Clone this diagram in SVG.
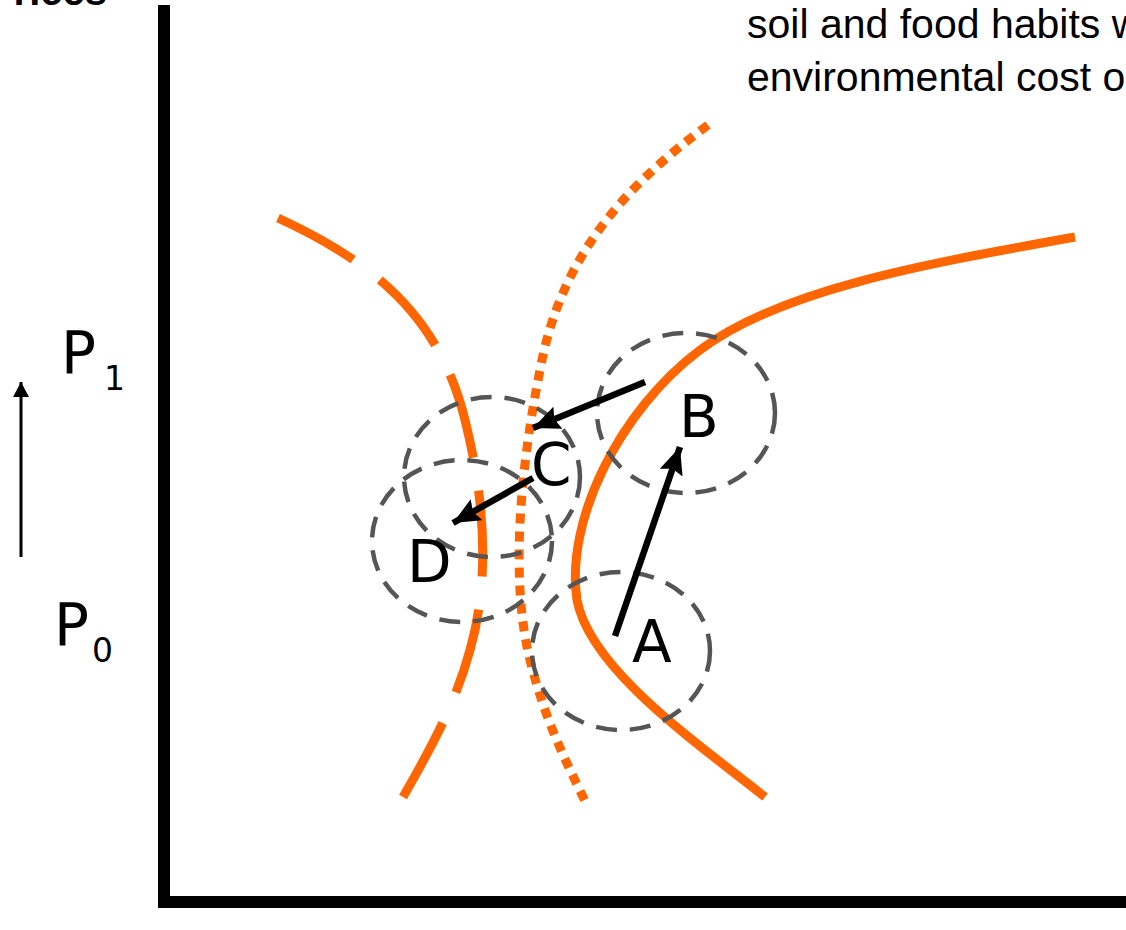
<svg xmlns="http://www.w3.org/2000/svg" width="1126" height="930" viewBox="0 0 1126 930">
<style>
.lbl{font-family:"DejaVu Sans",Verdana,sans-serif;fill:#000}
.big{font-size:58px}
.sub{font-size:33px}
.note{font-family:"Liberation Sans",Arial,sans-serif;font-size:41px;fill:#000}
.ring{fill:none;stroke:#555;stroke-width:4.5;stroke-dasharray:21 13}
.orange{fill:none;stroke:#FF6600;stroke-width:9}
.arr{fill:none;stroke:#000;stroke-width:6.5}
</style>
<defs>
<marker id="ah" markerUnits="userSpaceOnUse" markerWidth="30" markerHeight="26" refX="27" refY="12" orient="auto">
<path d="M0,0 L27,12 L0,24 L4,12 Z" fill="#000"/>
</marker>
<marker id="ahs" markerUnits="userSpaceOnUse" markerWidth="16" markerHeight="16" refX="15" refY="8" orient="auto">
<path d="M0,0 L15,8 L0,16 Z" fill="#000"/>
</marker>
</defs>
<rect width="1126" height="930" fill="#fff"/>
<text x="107" y="5" text-anchor="end" style="font-family:'Liberation Sans',Arial,sans-serif;font-size:40px;font-weight:bold">Prices</text>
<text class="note" x="747" y="38">soil and food habits w</text>
<text class="note" x="747" y="91">environmental cost o</text>
<g id="axes">
<line x1="164" y1="5" x2="164" y2="908" stroke="#000" stroke-width="12"/>
<line x1="158" y1="902" x2="1126" y2="902" stroke="#000" stroke-width="12"/>
</g>
<g id="curves">
<path class="orange" d="M765,797 C700,745 590,670 577,600 C565,520 620,410 700,350 C780,290 920,265 1075,237"/>
<path class="orange" stroke-dasharray="86 33.4" d="M278,218 C380,265 440,320 465,420 C485,500 490,580 470,650 C455,705 430,750 403,797"/>
<path class="orange" stroke-dasharray="10 8" d="M708,125 C620,190 560,260 540,370 C520,470 510,580 530,660 C545,720 565,760 587,805"/>
</g>
<g id="node-P1"><text class="lbl big" x="61" y="373">P</text><text class="lbl sub" x="104" y="390">1</text></g>
<g id="node-P0"><text class="lbl big" x="54" y="645">P</text><text class="lbl sub" x="92" y="662">0</text></g>
<g id="node-A"><ellipse class="ring" cx="621" cy="651" rx="89" ry="79"/><text class="lbl big" x="632" y="662">A</text></g>
<g id="node-B"><ellipse class="ring" cx="686" cy="413" rx="89" ry="80"/><text class="lbl big" x="679" y="437">B</text></g>
<g id="node-C"><ellipse class="ring" cx="492" cy="477" rx="88" ry="80"/><text class="lbl big" x="531" y="485">C</text></g>
<g id="node-D"><ellipse class="ring" cx="462" cy="541" rx="90" ry="81"/><text class="lbl big" x="407" y="582">D</text></g>
<g id="connectors">
<line class="arr" x1="615" y1="636" x2="680" y2="447" marker-end="url(#ah)"/>
<line class="arr" x1="645" y1="382" x2="533" y2="428" marker-end="url(#ah)"/>
<line class="arr" x1="533" y1="478" x2="453" y2="523" marker-end="url(#ah)"/>
<line x1="21" y1="557" x2="21" y2="382" stroke="#000" stroke-width="3" marker-end="url(#ahs)"/>
</g>
</svg>
